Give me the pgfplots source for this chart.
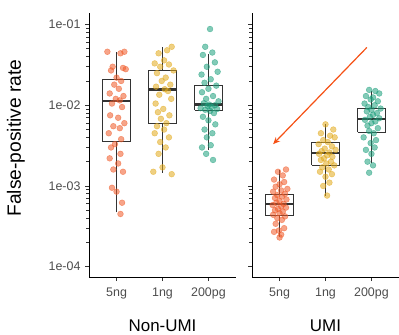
\documentclass[border=0pt]{standalone}
\usepackage{pgfplots}
\pgfplotsset{compat=1.18}
\usetikzlibrary{arrows.meta}
\usepackage{fontspec}
\setmainfont{Liberation Sans}
\definecolor{cA}{RGB}{240,90,40}
\definecolor{cB}{RGB}{226,170,28}
\definecolor{cC}{RGB}{30,160,125}
\definecolor{tickgray}{RGB}{77,77,77}
\definecolor{boxgray}{RGB}{51,51,51}
\definecolor{arrowc}{RGB}{245,80,20}

\pgfplotstableread{
x y
0.80 0.046
1.17 0.046
1.085 0.044
0.915 0.030
1.14 0.029
1.20 0.028
0.88 0.027
1.00 0.022
1.10 0.020
0.95 0.018
1.05 0.016
0.85 0.014
1.15 0.013
0.983 0.012
1.07 0.0115
0.90 0.0105
1.12 0.0095
0.86 0.0075
1.035 0.0070
1.17 0.0060
0.93 0.0055
1.07 0.0052
0.83 0.0045
1.10 0.0038
0.965 0.0033
0.88 0.0030
1.085 0.0025
0.85 0.0022
1.035 0.0019
0.93 0.0016
1.14 0.0015
0.90 0.00095
1.00 0.00085
1.12 0.00062
1.085 0.00045
}\nonA
\pgfplotstableread{
x y
2.20 0.053
2.10 0.048
1.915 0.044
2.035 0.036
1.83 0.033
2.14 0.032
1.95 0.030
2.24 0.027
1.88 0.025
2.07 0.022
1.983 0.020
2.17 0.018
1.86 0.017
2.05 0.0158
2.12 0.0150
1.93 0.0135
2.19 0.0120
1.85 0.0105
2.017 0.0090
1.90 0.0082
2.15 0.0075
1.965 0.0068
2.085 0.0060
1.88 0.0055
2.035 0.0050
1.83 0.0045
2.14 0.0040
1.95 0.0035
2.07 0.0030
1.915 0.0025
2.00 0.0017
1.80 0.0015
2.20 0.0014
}\nonB
\pgfplotstableread{
x y
3.035 0.088
2.93 0.053
3.085 0.045
2.88 0.042
3.14 0.034
2.965 0.030
3.20 0.026
2.85 0.024
3.05 0.021
2.915 0.019
3.17 0.0175
3.00 0.016
2.86 0.0145
3.10 0.013
2.95 0.012
3.22 0.0112
2.90 0.0106
3.017 0.0102
3.14 0.0100
2.983 0.0098
3.07 0.0095
2.83 0.0092
3.19 0.0090
2.93 0.0088
3.035 0.0085
3.12 0.0080
2.88 0.0072
3.00 0.0065
3.15 0.0058
2.915 0.0050
3.085 0.0045
2.965 0.0040
3.05 0.0032
2.86 0.0030
2.95 0.0025
3.10 0.0021
}\nonC
\pgfplotstableread{
x y
1.14 0.00160
0.965 0.00150
1.07 0.00135
0.88 0.00120
1.10 0.00112
1.00 0.00105
0.915 0.00098
1.17 0.00092
1.035 0.00088
0.86 0.00085
1.12 0.00080
0.95 0.00077
1.05 0.00074
0.90 0.00071
1.15 0.00068
1.00 0.00065
0.93 0.00062
1.085 0.00060
0.85 0.00058
1.035 0.00056
1.14 0.00054
0.965 0.00052
0.90 0.00050
1.07 0.00048
1.00 0.00046
0.86 0.00044
1.12 0.00042
0.95 0.00040
1.05 0.00038
0.915 0.00034
1.10 0.00030
0.983 0.00028
0.88 0.00027
1.035 0.00025
1.00 0.00023
}\umiA
\pgfplotstableread{
x y
2.00 0.0058
2.17 0.0050
1.90 0.0045
2.10 0.0042
2.20 0.0040
1.95 0.0037
2.05 0.0035
1.85 0.0033
2.14 0.0031
1.983 0.0029
2.22 0.0028
1.915 0.0027
2.085 0.0026
1.86 0.0025
2.035 0.0024
2.15 0.0023
1.965 0.0022
1.90 0.0021
2.12 0.0020
2.017 0.0019
2.19 0.0018
1.93 0.0017
2.07 0.0016
1.88 0.0015
2.14 0.0014
2.00 0.0013
2.085 0.0011
1.95 0.0010
2.035 0.00076
}\umiB
\pgfplotstableread{
x y
2.95 0.0155
3.085 0.0150
3.17 0.0140
2.88 0.0130
3.035 0.0125
2.983 0.0118
3.14 0.0112
2.85 0.0105
3.07 0.0100
2.93 0.0095
3.20 0.0091
3.00 0.0088
2.90 0.0084
3.12 0.0080
3.035 0.0076
2.965 0.0072
3.17 0.0069
2.86 0.0066
3.085 0.0063
3.00 0.0060
2.915 0.0056
3.14 0.0052
2.95 0.0048
3.05 0.0045
2.83 0.0040
3.10 0.0037
2.983 0.0034
3.07 0.0030
2.88 0.0028
3.00 0.0025
2.915 0.0020
3.035 0.0018
2.95 0.00146
}\umiC

\pgfplotsset{
  mypts/.style={only marks, mark=*, mark size=2.9bp,
    mark options={fill=#1, fill opacity=0.55, draw=#1, draw opacity=0.55, line width=0.5bp}},
}
% left, pos, right, lower whisker, q1, median, q3, upper whisker
\newcommand{\gbox}[8]{%
  \addplot[boxgray, line width=0.9bp, mark=none] coordinates {(#2,#4) (#2,#5)};
  \addplot[boxgray, line width=0.9bp, mark=none] coordinates {(#2,#7) (#2,#8)};
  \addplot[boxgray, line width=0.9bp, mark=none, fill=white, line join=miter] coordinates {(#1,#5) (#3,#5) (#3,#7) (#1,#7) (#1,#5)};
  \addplot[boxgray, line width=2.4bp, mark=none] coordinates {(#1,#6) (#3,#6)};
}

\begin{document}
\begin{tikzpicture}
\useasboundingbox (0,0) rectangle (399bp,335bp);
\begin{axis}[at={(89bp,58bp)}, anchor=south west,
    scale only axis, width=147bp, height=264bp,
    ymode=log, ymin=7.45e-5, ymax=0.139,
    xmin=0.4, xmax=3.6,
    axis lines*=left, axis line style={line width=0.9bp, black},
    tick align=outside, major tick length=4bp,
    tick style={line width=0.8bp, black!80},
    xtick={1,2,3}, xticklabels={5ng,1ng,200pg},
    ytick={1e-4,1e-3,1e-2,1e-1}, yticklabels={1e-04,1e-03,1e-02,1e-01},
    minor ytick={},
    ticklabel style={font=\fontsize{12.5}{14}\selectfont, text=tickgray},
    xticklabel style={yshift=-3bp},
    yticklabel style={xshift=-1bp},
    clip=false]
\gbox{0.7}{1}{1.3}{0.00047}{0.00352}{0.0112}{0.0207}{0.0455}
\gbox{1.7}{2}{2.3}{0.00146}{0.00594}{0.0156}{0.027}{0.0525}
\gbox{2.7}{3}{3.3}{0.0028}{0.00867}{0.0102}{0.0177}{0.0435}
\addplot[mypts=cA] table[x=x,y=y] {\nonA};
\addplot[mypts=cB] table[x=x,y=y] {\nonB};
\addplot[mypts=cC] table[x=x,y=y] {\nonC};
\end{axis}
\begin{axis}[at={(252bp,58bp)}, anchor=south west,
    scale only axis, width=147bp, height=264bp,
    ymode=log, ymin=7.45e-5, ymax=0.139,
    xmin=0.4, xmax=3.6,
    axis lines*=left, axis line style={line width=0.9bp, black},
    tick align=outside, major tick length=4bp,
    tick style={line width=0.8bp, black!80},
    xtick={1,2,3}, xticklabels={5ng,1ng,200pg},
    ytick={1e-4,1e-3,1e-2,1e-1}, yticklabels={},
    minor ytick={},
    ticklabel style={font=\fontsize{12.5}{14}\selectfont, text=tickgray},
    xticklabel style={yshift=-3bp},
    clip=false]
\gbox{0.7}{1}{1.3}{0.000233}{0.000427}{0.000594}{0.00079}{0.00158}
\gbox{1.7}{2}{2.3}{0.00076}{0.0018}{0.00255}{0.00343}{0.0058}
\gbox{2.7}{3}{3.3}{0.0019}{0.0046}{0.00678}{0.0091}{0.015}
\addplot[mypts=cA] table[x=x,y=y] {\umiA};
\addplot[mypts=cB] table[x=x,y=y] {\umiB};
\addplot[mypts=cC] table[x=x,y=y] {\umiC};
\draw[-{Stealth[length=7bp,width=6bp]}, line width=1.2bp, arrowc]
  (axis cs:2.9,0.052) -- (axis cs:0.86,0.0033);
\end{axis}
\node[rotate=90, font=\fontsize{19.3}{22}\selectfont] at (16bp,197bp) {False-positive rate};
\node[anchor=base, font=\fontsize{17}{20}\selectfont] at (162.5bp,4bp) {Non-UMI};
\node[anchor=base, font=\fontsize{17}{20}\selectfont] at (325.5bp,4bp) {UMI};
\end{tikzpicture}
\end{document}
